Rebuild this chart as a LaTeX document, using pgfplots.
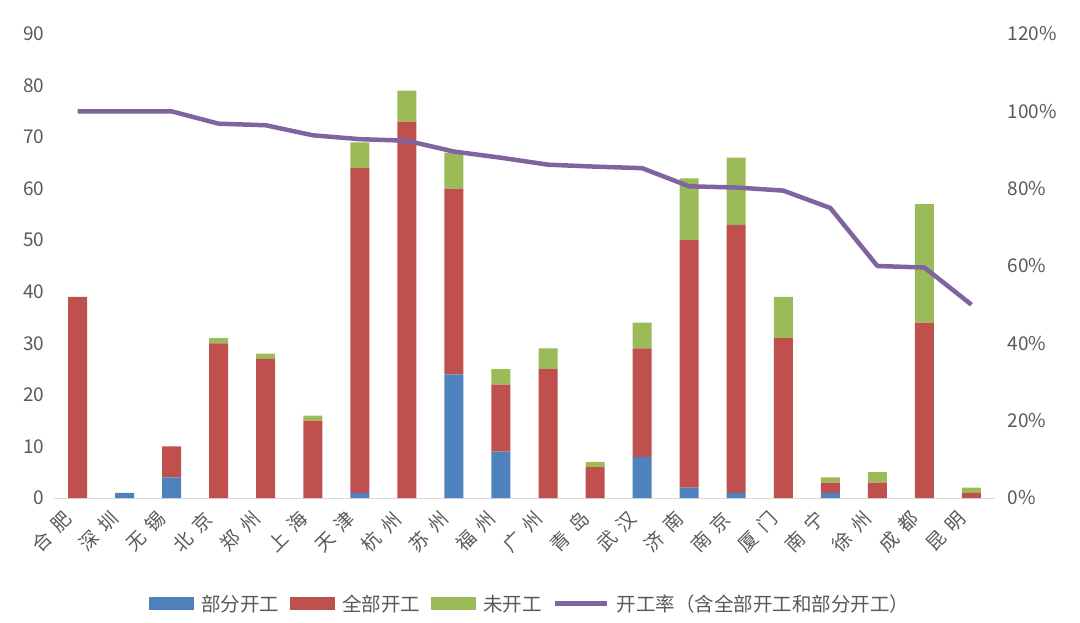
\documentclass[border=0pt]{standalone}
\usepackage{pgfplots}
\pgfplotsset{compat=1.18}
\usepackage{pgfplotstable}
\usepackage{graphicx}
\usepackage{fontspec}
\setmainfont{Noto Sans CJK SC}
\definecolor{cblue}{HTML}{4F81BD}
\definecolor{cred}{HTML}{C0504D}
\definecolor{cgreen}{HTML}{9BBB59}
\definecolor{cpurple}{HTML}{8064A2}
\definecolor{textgray}{HTML}{595959}
\definecolor{axisgray}{HTML}{D9D9D9}
\newcommand\lbl{\fontsize{19bp}{22bp}\selectfont}
\newcommand\leg{\fontsize{19.5bp}{22bp}\selectfont}
\newcommand\rot[2]{\rotatebox{45}{#1\kern8bp#2}}
\pgfplotsset{
 barleg/.style={legend image code/.code={\fill[##1] (0bp,-6.5bp) rectangle (45bp,6.5bp);}},
 lineleg/.style={legend image code/.code={\draw[##1] (0bp,0bp) -- (52bp,0bp);}},
}

\pgfplotstableread{
x part full none rate
0 0 39 0 100
1 1 0 0 100
2 4 6 0 100
3 0 30 1 96.8
4 0 27 1 96.4
5 0 15 1 93.8
6 1 63 5 92.8
7 0 73 6 92.4
8 24 36 7 89.6
9 9 13 3 88.0
10 0 25 4 86.2
11 0 6 1 85.7
12 8 21 5 85.3
13 2 48 12 80.6
14 1 52 13 80.3
15 0 31 8 79.5
16 1 2 1 75.0
17 0 3 2 60.0
18 0 34 23 59.6
19 0 1 1 50.0
}\data

\begin{document}
\begin{tikzpicture}
\path[use as bounding box] (-54bp,-125bp) rectangle (1026bp,498bp);
\begin{axis}[
 scale only axis, width=941bp, height=464bp,
 xmin=-0.5, xmax=19.5, ymin=0, ymax=90,
 ybar stacked, bar width=19bp,
 xtick=data,
 xticklabels={\rot{合}{肥},\rot{深}{圳},\rot{无}{锡},\rot{北}{京},\rot{郑}{州},\rot{上}{海},\rot{天}{津},\rot{杭}{州},\rot{苏}{州},\rot{福}{州},\rot{广}{州},\rot{青}{岛},\rot{武}{汉},\rot{济}{南},\rot{南}{京},\rot{厦}{门},\rot{南}{宁},\rot{徐}{州},\rot{成}{都},\rot{昆}{明}},
 ytick={0,10,...,90},
 axis x line*=bottom, axis y line*=left,
 y axis line style={draw=none},
 x axis line style={draw=axisgray, line width=1bp},
 major tick length=0pt,
 tick label style={font=\lbl, text=textgray},
 /pgf/number format/assume math mode=true,
 x tick label style={anchor=north east, inner sep=0pt, xshift=-3bp, yshift=-11bp},
 yticklabel style={xshift=-6bp},
 legend style={at={(0.506,-0.228)}, anchor=center, draw=none, font=\leg, text=textgray,
   legend columns=-1,
   /tikz/every odd column/.append style={column sep=5bp},
   /tikz/every even column/.append style={column sep=9bp}},
]
\addplot[fill=cblue, draw=none, barleg] table[x=x,y=part]{\data};
\addplot[fill=cred, draw=none, barleg] table[x=x,y=full]{\data};
\addplot[fill=cgreen, draw=none, barleg] table[x=x,y=none]{\data};
\addlegendimage{cpurple, line width=5bp, lineleg}
\legend{部分开工,全部开工,未开工,开工率（含全部开工和部分开工）}
\end{axis}
\begin{axis}[
 scale only axis, width=941bp, height=464bp,
 xmin=-0.5, xmax=19.5, ymin=0, ymax=120,
 axis y line*=right, axis x line=none,
 y axis line style={draw=none},
 major tick length=0pt,
 ytick={0,20,...,120},
 yticklabel={\pgfmathprintnumber{\tick}\%},
 tick label style={font=\lbl, text=textgray},
 /pgf/number format/assume math mode=true,
 yticklabel style={xshift=9bp},
]
\addplot[cpurple, line width=4.5bp, line join=round, mark=none] table[x=x,y=rate]{\data};
\end{axis}
\end{tikzpicture}
\end{document}
